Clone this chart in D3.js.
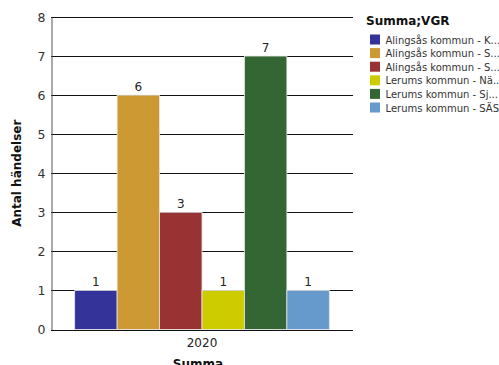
<!DOCTYPE html>
<html>
<head>
<meta charset="utf-8">
<script src="https://cdn.jsdelivr.net/npm/d3@7"></script>
<style>
  html, body { margin: 0; padding: 0; background: #fff; }
  svg { display: block; font-family: "DejaVu Sans", Verdana, sans-serif; }
</style>
</head>
<body>
<svg id="chart" width="499" height="365"></svg>
<script>
// Incident counts per municipality/unit, year 2020
const categories = ["2020"];
const seriesNames = [
  "Alingsås kommun - K...",
  "Alingsås kommun - S...",
  "Alingsås kommun - S...",
  "Lerums kommun - Nä...",
  "Lerums kommun - Sj...",
  "Lerums kommun - SÄS"
];
const seriesValues = [1, 6, 3, 1, 7, 1];
const seriesColors = ["#333399", "#CC9933", "#993333", "#CCCC00", "#336633", "#6699CC"];
const yTicks = [0, 1, 2, 3, 4, 5, 6, 7, 8];

const svg = d3.select("#chart");
const plot = { left: 51, right: 353, top: 17, bottom: 329.5 };

const y = d3.scaleLinear().domain([0, 8]).range([plot.bottom, plot.top]);
const x0 = d3.scaleBand().domain(categories).range([plot.left, plot.right]).paddingInner(0).paddingOuter(0.093);
const x1 = d3.scaleBand().domain(d3.range(seriesValues.length)).range([0, x0.bandwidth()]).padding(0);

// horizontal gridlines
svg.append("g")
  .selectAll("line")
  .data(yTicks)
  .join("line")
  .attr("x1", plot.left).attr("x2", plot.right)
  .attr("y1", d => Math.round(y(d)) + 0.5).attr("y2", d => Math.round(y(d)) + 0.5)
  .attr("stroke", "#111").attr("stroke-width", 1);

// y axis
const yAxis = svg.append("g")
  .attr("transform", `translate(${plot.left + 0.5},0)`)
  .call(d3.axisLeft(y).tickValues(yTicks).tickSize(0).tickPadding(6).tickFormat(d3.format("d")));
yAxis.select(".domain").attr("stroke", "#555");
yAxis.selectAll("text").attr("font-size", 12.5).attr("fill", "#333")
  .attr("font-family", "DejaVu Sans, Verdana, sans-serif");

// x axis labels
const xAxis = svg.append("g")
  .attr("transform", `translate(0,${plot.bottom})`)
  .call(d3.axisBottom(x0).tickSize(0).tickPadding(9));
xAxis.select(".domain").remove();
xAxis.selectAll("text").attr("font-size", 12).attr("fill", "#222")
  .attr("font-family", "DejaVu Sans, Verdana, sans-serif");

// bars
const group = svg.append("g")
  .selectAll("g")
  .data(categories)
  .join("g")
  .attr("transform", d => `translate(${x0(d)},0)`);

group.selectAll("rect")
  .data(seriesValues.map((v, i) => ({ v, i })))
  .join("rect")
  .attr("x", d => x1(d.i))
  .attr("width", x1.bandwidth())
  .attr("y", d => y(d.v))
  .attr("height", d => y(0) - y(d.v))
  .attr("fill", d => seriesColors[d.i])
  .attr("stroke", "#e6e6e6")
  .attr("stroke-width", 0.8);

// value labels
group.selectAll("text.val")
  .data(seriesValues.map((v, i) => ({ v, i })))
  .join("text")
  .attr("class", "val")
  .attr("x", d => x1(d.i) + x1.bandwidth() / 2)
  .attr("y", d => y(d.v) - 4)
  .attr("text-anchor", "middle")
  .attr("font-size", 12)
  .attr("fill", "#222")
  .text(d => d.v);

// axis titles
svg.append("text")
  .attr("transform", `translate(21,${(plot.top + plot.bottom) / 2}) rotate(-90)`)
  .attr("text-anchor", "middle")
  .attr("font-size", 12)
  .attr("font-weight", "bold")
  .attr("fill", "#111")
  .text("Antal händelser");

svg.append("text")
  .attr("x", x0("2020") + x0.bandwidth() / 2 - 4)
  .attr("y", 368)
  .attr("text-anchor", "middle")
  .attr("font-size", 12)
  .attr("font-weight", "bold")
  .attr("fill", "#111")
  .text("Summa");

// legend
const legend = svg.append("g").attr("transform", "translate(366,0)");
legend.append("text")
  .attr("x", 0).attr("y", 25)
  .attr("font-size", 12)
  .attr("font-weight", "bold")
  .attr("fill", "#111")
  .text("Summa;VGR");

const items = legend.selectAll("g.item")
  .data(seriesNames.map((n, i) => ({ n, i })))
  .join("g")
  .attr("class", "item")
  .attr("transform", d => `translate(0,${39.5 + d.i * 13.6})`);
items.append("rect")
  .attr("x", 4).attr("y", -5).attr("width", 10).attr("height", 10)
  .attr("fill", d => seriesColors[d.i]);
items.append("text")
  .attr("x", 19.5).attr("y", 4)
  .attr("font-size", 10)
  .attr("fill", "#333")
  .text(d => d.n);
</script>
</body>
</html>
